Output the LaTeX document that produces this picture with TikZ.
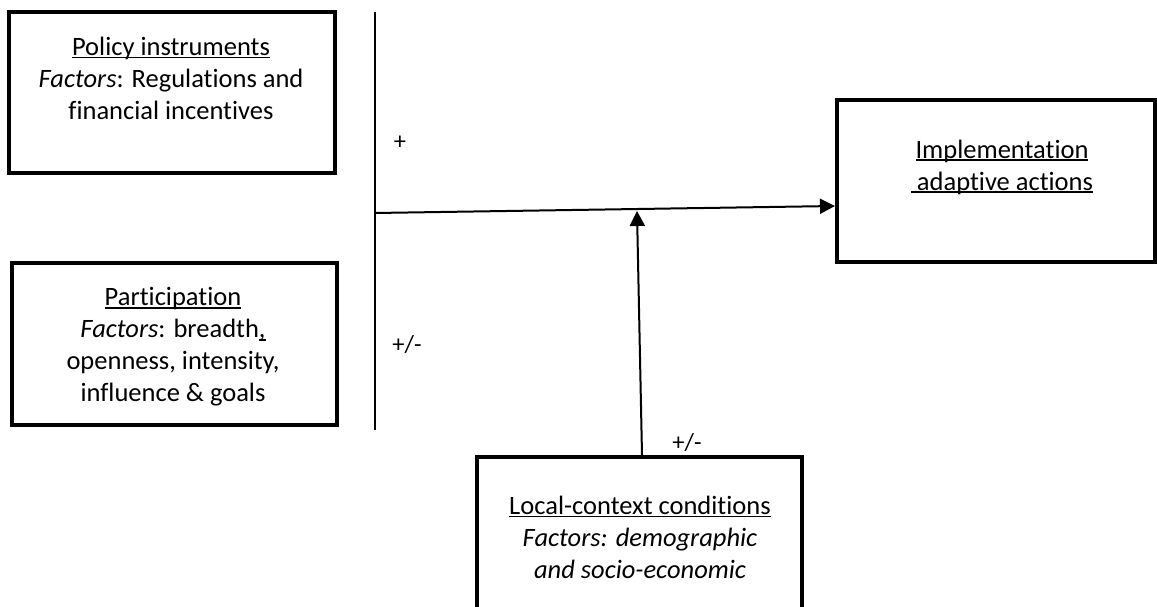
\documentclass[tikz,border=0pt]{standalone}
\usepackage{fontspec}
\setmainfont{Carlito}[Ligatures=NoCommon]
\usepackage{tikz}
\usetikzlibrary{arrows.meta,positioning}
\newcommand{\uln}[1]{\setbox0\hbox{#1}\rlap{\rule[-3pt]{\wd0}{1.6pt}}\box0}

\begin{document}
\begin{tikzpicture}[
  x=1pt, y=-1pt,
  box/.style={rectangle, draw=black, line width=4pt, inner sep=0pt},
  txt/.style={align=center, inner sep=0pt, font=\fontsize{26.5}{32}\selectfont},
  lbl/.style={inner sep=0pt, font=\fontsize{24.5}{28}\selectfont},
  arr/.style={-{Triangle[length=15pt,width=15pt]}, line width=2pt},
  bar/.style={line width=2pt}
]
\useasboundingbox (0,0) rectangle (1157,607);
\clip (0,0) rectangle (1157,607);

\node[box, minimum width=326pt, minimum height=161pt] (policy) at (172,92.5) {};
\node[box, minimum width=325pt, minimum height=162pt] (partic) at (174.5,344) {};
\node[box, minimum width=318pt, minimum height=162pt] (impl) at (996,181) {};
\node[box, minimum width=325pt, minimum height=172pt] (local) at (639.5,543) {};

\node[txt] (policytxt) at (171,78)
  {\uln{Policy instruments}\\
   \textit{Factors}: Regulations and\\
   financial incentives};
\node[txt] (partictxt) at (173,347)
  {\uln{Participation}\\
   \textit{Factors}: breadth\uln{,}\\
   openness, intensity,\\
   influence \& goals};
\node[txt] (impltxt) at (1002,167)
  {\uln{Implementation}\\
   \uln{\ adaptive actions}};
\node[txt] (localtxt) at (640,537)
  {\uln{Local-context conditions}\\
   \textit{Factors: demographic}\\
   \textit{and socio-economic}};

% bar joining the two drivers
\coordinate (bartop) at (375,12);
\coordinate (barbot) at (375,430);
\coordinate (join) at (375,213);
\coordinate (meet) at (637,211);
\draw[bar] (bartop) -- (barbot);

\draw[arr] (join) -- ([yshift=-25pt]impl.west);
\draw[arr] ([xshift=2.5pt]local.north) -- (meet);

\node[lbl] (plus) at (400,143) {+};
\node[lbl] (pm1) at (407,345) {+/-};
\node[lbl] (pm2) at (687,443) {+/-};
\end{tikzpicture}
\end{document}
